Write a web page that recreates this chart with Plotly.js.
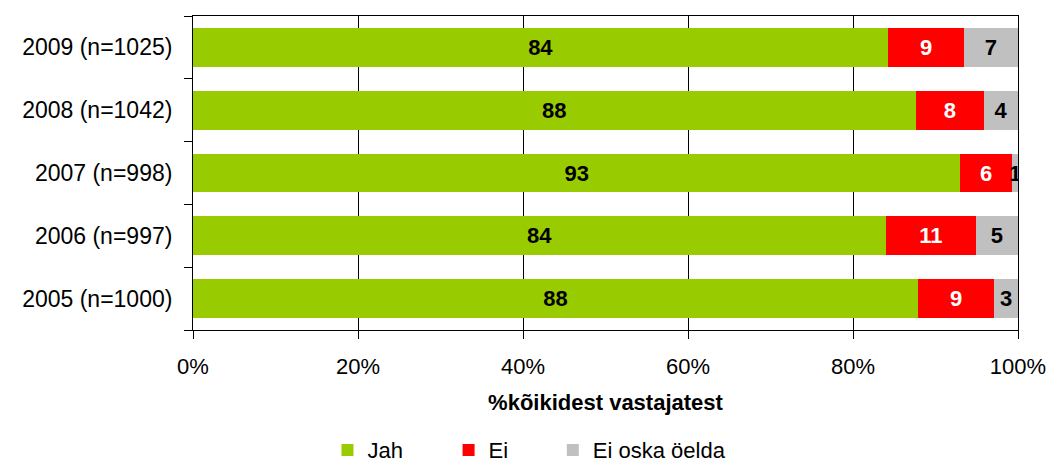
<!DOCTYPE html>
<html>
<head>
<meta charset="utf-8">
<script src="https://cdn.plot.ly/plotly-3.0.1.min.js"></script>
<style>
html,body{margin:0;padding:0;background:#fff;}
#chart{width:1053px;height:464px;}
</style>
</head>
<body>
<div id="chart"></div>
<script>
const categories = ['2005 (n=1000)', '2006 (n=997)', '2007 (n=998)', '2008 (n=1042)', '2009 (n=1025)'];
const seriesNames = ['Jah', 'Ei', 'Ei oska öelda'];
const jah = [87.9, 84.0, 93.0, 87.6, 84.3];
const ei = [9.2, 10.9, 6.3, 8.3, 9.1];
const eiOska = [2.9, 5.1, 0.7, 4.1, 6.6];
const xTickVals = [0, 20, 40, 60, 80, 100];
const xTickText = ['0%', '20%', '40%', '60%', '80%', '100%'];

const FONT = 'Liberation Sans, Arial, sans-serif';
const colors = ['#99CC00', '#FF0000', '#C0C0C0'];
const textColors = ['#000000', '#FFFFFF', '#000000'];
const legendIds = ['legend', 'legend2', 'legend3'];
const legendX = [0.311, 0.426, 0.525];
const values = [jah, ei, eiOska];

const traces = values.map((v, i) => ({
  type: 'bar',
  orientation: 'h',
  name: seriesNames[i],
  legend: legendIds[i],
  y: categories,
  x: v,
  marker: {color: colors[i], line: {width: 0}},
  texttemplate: '%{x:.0f}',
  textposition: 'inside',
  insidetextanchor: 'middle',
  constraintext: 'none',
  textangle: 0,
  textfont: {family: FONT, size: 22, color: textColors[i], weight: 'bold'},
  hoverinfo: 'skip'
}));

function legendSpec(x) {
  return {
    orientation: 'h',
    x: x,
    xanchor: 'left',
    xref: 'container',
    y: 0.03,
    yref: 'container',
    yanchor: 'middle',
    bgcolor: 'rgba(0,0,0,0)',
    font: {family: FONT, size: 22, color: '#000'}
  };
}

const layout = {
  width: 1053,
  height: 464,
  barmode: 'stack',
  bargap: 0.38,
  margin: {l: 193, r: 35, t: 16, b: 134, autoexpand: false},
  paper_bgcolor: '#ffffff',
  plot_bgcolor: '#ffffff',
  font: {family: FONT, size: 22, color: '#000'},
  showlegend: true,
  legend: legendSpec(legendX[0]),
  legend2: legendSpec(legendX[1]),
  legend3: legendSpec(legendX[2]),
  xaxis: {
    range: [0, 100],
    tickvals: xTickVals,
    ticktext: xTickText,
    tickangle: 0,
    showgrid: true,
    gridcolor: '#000',
    gridwidth: 1,
    showline: true,
    linecolor: '#000',
    linewidth: 1,
    mirror: true,
    ticks: 'outside',
    ticklen: 8,
    tickcolor: '#000',
    zeroline: false,
    ticklabelstandoff: 9,
    tickfont: {family: FONT, size: 22, color: '#000'},
    title: {text: '%kõikidest vastajatest', font: {family: FONT, size: 22, color: '#000', weight: 'bold'}, standoff: 16},
    fixedrange: true
  },
  yaxis: {
    type: 'category',
    categoryorder: 'array',
    categoryarray: categories,
    tickson: 'boundaries',
    ticks: 'outside',
    ticklen: 8,
    tickcolor: '#000',
    showline: true,
    linecolor: '#000',
    linewidth: 1,
    mirror: true,
    showgrid: false,
    ticklabelstandoff: 15,
    tickfont: {family: FONT, size: 23, color: '#000'},
    fixedrange: true
  }
};

Plotly.newPlot('chart', traces, layout, {displayModeBar: false, staticPlot: true});
</script>
</body>
</html>
